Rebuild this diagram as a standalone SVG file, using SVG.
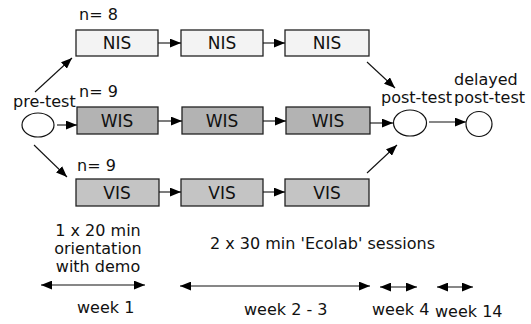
<svg xmlns="http://www.w3.org/2000/svg" width="531" height="324" viewBox="0 0 531 324">
<style>
text{font-family:"DejaVu Sans","Liberation Sans",sans-serif;font-size:16px;fill:#111}
.bt{font-size:17px;text-anchor:middle}
.box{stroke:#222;stroke-width:1.3}
.nis{fill:#f3f3f3}
.wis{fill:#b3b3b3}
.vis{fill:#c4c4c4}
.ell{fill:#fff;stroke:#111;stroke-width:1.2}
.c{stroke:#111;stroke-width:1.1;fill:none}
</style>
<defs>
<marker id="ah" viewBox="0 0 10 8" refX="10" refY="4" markerWidth="11" markerHeight="9" markerUnits="userSpaceOnUse" orient="auto-start-reverse">
<path d="M0,0L10,4L0,8z" fill="#000"/>
</marker>
</defs>
<rect width="531" height="324" fill="#fff"/>
<g id="nis1"><rect class="box nis" x="76" y="30" width="82" height="26"/><text class="bt" x="117" y="49">NIS</text></g>
<g id="nis2"><rect class="box nis" x="181" y="30" width="82" height="26"/><text class="bt" x="222" y="49">NIS</text></g>
<g id="nis3"><rect class="box nis" x="285" y="30" width="84" height="26"/><text class="bt" x="327" y="49">NIS</text></g>
<g id="wis1"><rect class="box wis" x="77" y="107" width="81" height="27"/><text class="bt" x="117" y="127">WIS</text></g>
<g id="wis2"><rect class="box wis" x="182" y="107" width="81" height="27"/><text class="bt" x="222" y="127">WIS</text></g>
<g id="wis3"><rect class="box wis" x="286" y="107" width="84" height="27"/><text class="bt" x="328" y="127">WIS</text></g>
<g id="vis1"><rect class="box vis" x="76" y="179" width="83" height="27"/><text class="bt" x="117" y="199">VIS</text></g>
<g id="vis2"><rect class="box vis" x="181" y="179" width="82" height="27"/><text class="bt" x="222" y="199">VIS</text></g>
<g id="vis3"><rect class="box vis" x="285" y="179" width="84" height="27"/><text class="bt" x="327" y="199">VIS</text></g>
<g id="pretest"><ellipse class="ell" cx="38" cy="125" rx="16" ry="12"/><text x="13" y="107">pre-test</text></g>
<g id="posttest"><ellipse class="ell" cx="410" cy="123" rx="16.5" ry="13"/><text x="381" y="103">post-test</text></g>
<g id="delayed"><ellipse class="ell" cx="479" cy="124" rx="13" ry="12.5"/><text x="454" y="85">delayed</text><text x="454" y="103">post-test</text></g>
<g id="labels">
<text x="79" y="20">n= 8</text>
<text x="79" y="97">n= 9</text>
<text x="77" y="171">n= 9</text>
<text x="98" y="236" text-anchor="middle">1 x 20 min</text>
<text x="98" y="254" text-anchor="middle">orientation</text>
<text x="98" y="272" text-anchor="middle">with demo</text>
<text x="210" y="249">2 x 30 min 'Ecolab' sessions</text>
<text x="77" y="313">week 1</text>
<text x="244" y="315">week 2 - 3</text>
<text x="372" y="315">week 4</text>
<text x="435" y="317">week 14</text>
</g>
<g id="connectors">
<line class="c" x1="158" y1="43" x2="181" y2="43" marker-end="url(#ah)"/>
<line class="c" x1="263" y1="43" x2="285" y2="43" marker-end="url(#ah)"/>
<line class="c" x1="158" y1="121" x2="182" y2="121" marker-end="url(#ah)"/>
<line class="c" x1="263" y1="121" x2="286" y2="121" marker-end="url(#ah)"/>
<line class="c" x1="159" y1="192" x2="181" y2="192" marker-end="url(#ah)"/>
<line class="c" x1="263" y1="192" x2="285" y2="192" marker-end="url(#ah)"/>
<line class="c" x1="35" y1="92" x2="72" y2="58" marker-end="url(#ah)"/>
<line class="c" x1="57" y1="125" x2="77" y2="125" marker-end="url(#ah)"/>
<line class="c" x1="34" y1="145" x2="67" y2="177" marker-end="url(#ah)"/>
<line class="c" x1="367" y1="62" x2="395" y2="88" marker-end="url(#ah)"/>
<line class="c" x1="370" y1="123" x2="393" y2="123" marker-end="url(#ah)"/>
<line class="c" x1="367" y1="173" x2="397" y2="145" marker-end="url(#ah)"/>
<line class="c" x1="429" y1="122" x2="466" y2="122" stroke="#555" marker-end="url(#ah)"/>
<line class="c" x1="41" y1="285" x2="145" y2="285" marker-start="url(#ah)" marker-end="url(#ah)"/>
<line class="c" x1="180" y1="286" x2="370" y2="286" marker-start="url(#ah)" marker-end="url(#ah)"/>
<line class="c" x1="380" y1="287" x2="417" y2="287" marker-start="url(#ah)" marker-end="url(#ah)"/>
<line class="c" x1="437" y1="287" x2="473" y2="287" marker-start="url(#ah)" marker-end="url(#ah)"/>
</g>
</svg>
